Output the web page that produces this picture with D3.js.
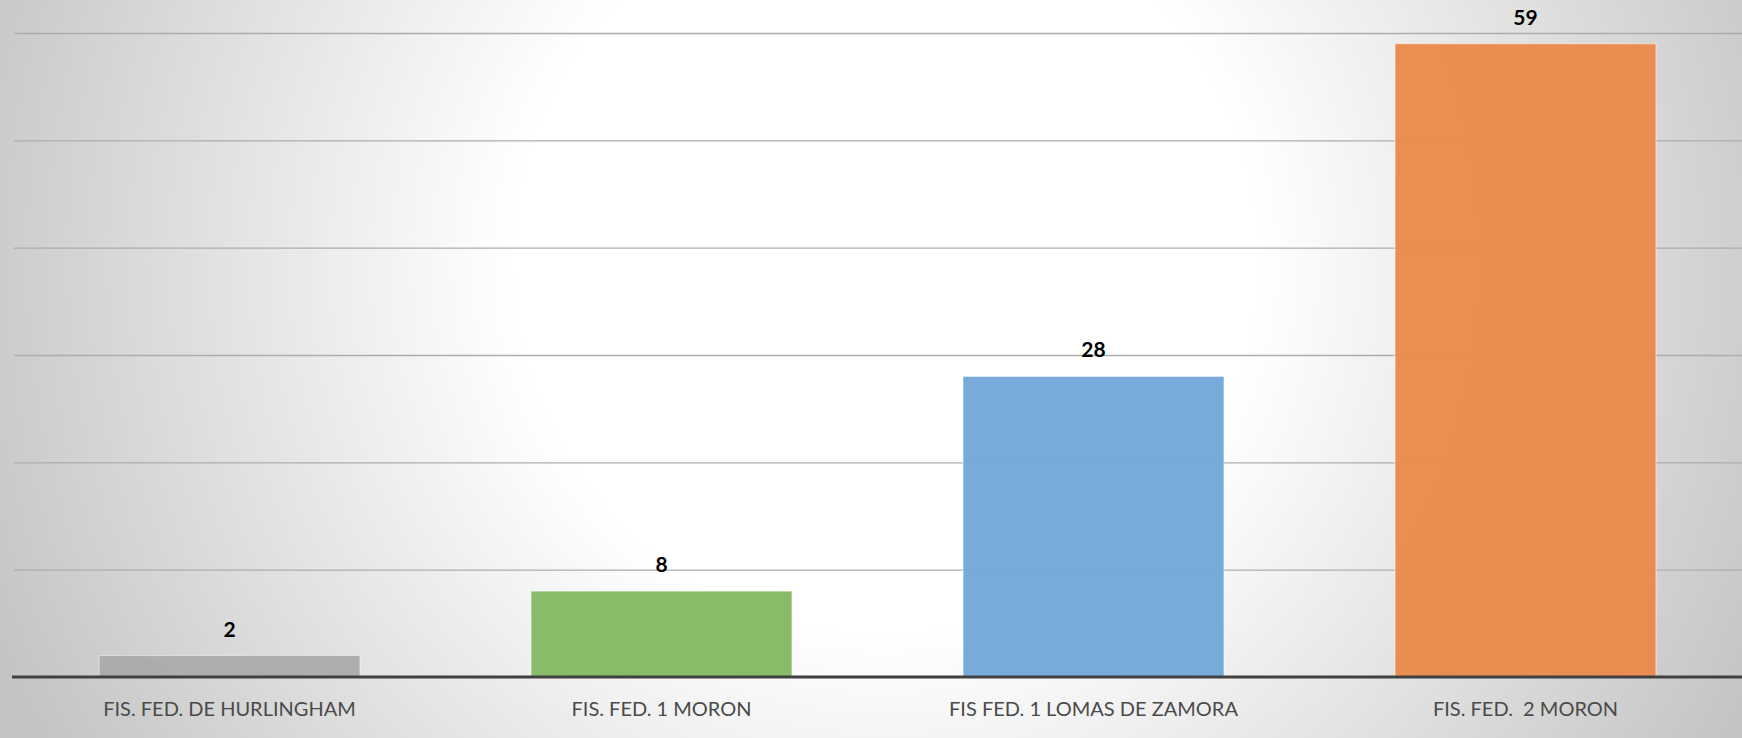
<!DOCTYPE html>
<html>
<head>
<meta charset="utf-8">
<script src="https://cdn.jsdelivr.net/npm/d3@7"></script>
<style>
  html, body { margin: 0; padding: 0; }
  svg { display: block; }
  .grid .domain { display: none; }
  .grid text { display: none; }
</style>
</head>
<body>
<div id="chart"></div>
<script>
var categories = ["FIS. FED. DE HURLINGHAM", "FIS. FED. 1 MORON", "FIS FED. 1 LOMAS DE ZAMORA", "FIS. FED.  2 MORON"];
var values = [2, 8, 28, 59];
var barColors = ["#ababab", "#83b962", "#73a7d9", "#e98a4a"];
var yTicks = [0, 10, 20, 30, 40, 50, 60];

var width = 1742,
    height = 738;
var margin = {top: 33, right: 0, bottom: 61, left: 14};

var svg = d3.select("#chart").append("svg")
    .attr("width", width)
    .attr("height", height);

// background radial gradient
var defs = svg.append("defs");
var grad = defs.append("radialGradient")
    .attr("id", "bg")
    .attr("gradientUnits", "userSpaceOnUse")
    .attr("cx", 885).attr("cy", 260).attr("r", 980);
grad.append("stop").attr("offset", "0").attr("stop-color", "#ffffff");
grad.append("stop").attr("offset", "0.38").attr("stop-color", "#ffffff");
grad.append("stop").attr("offset", "1").attr("stop-color", "#c3c3c3");

svg.append("rect")
    .attr("width", width)
    .attr("height", height)
    .attr("fill", "url(#bg)");

var x = d3.scaleBand()
    .domain(categories)
    .range([margin.left - 0.5, width - 0.5])
    .paddingInner(0.396)
    .paddingOuter(0.198);

var y = d3.scaleLinear()
    .domain([0, 60])
    .range([height - margin.bottom, margin.top]);

// gridlines
svg.append("g")
    .attr("class", "grid")
    .attr("transform", "translate(" + margin.left + ",0)")
    .call(d3.axisLeft(y).tickValues(yTicks.slice(1)).tickSize(-(width - margin.left)).tickFormat(""))
    .selectAll("line")
      .attr("stroke", "#adadad")
      .attr("stroke-width", 1.4);

// bars
svg.append("g").selectAll("rect")
    .data(values)
  .enter().append("rect")
    .attr("x", function(d, i) { return x(categories[i]); })
    .attr("y", function(d) { return y(d); })
    .attr("width", x.bandwidth())
    .attr("height", function(d) { return y(0) - y(d); })
    .attr("fill", function(d, i) { return barColors[i]; })
    .attr("fill-opacity", 0.96)
    .attr("stroke", "#ffffff")
    .attr("stroke-opacity", 0.45)
    .attr("stroke-width", 1.2);

// value labels
svg.append("g").selectAll("text")
    .data(values)
  .enter().append("text")
    .attr("x", function(d, i) { return x(categories[i]) + x.bandwidth() / 2; })
    .attr("y", function(d) { return y(d) - 19; })
    .attr("text-anchor", "middle")
    .attr("font-family", "Lato, 'Open Sans', sans-serif")
    .attr("font-weight", "bold")
    .attr("font-size", "21px")
    .attr("fill", "#000000")
    .text(function(d) { return d; });

// x axis
var xAxis = svg.append("g")
    .attr("transform", "translate(0," + y(0) + ")")
    .call(d3.axisBottom(x).tickSize(0).tickPadding(25));
xAxis.select(".domain")
    .attr("d", "M" + (margin.left - 2) + ",0H" + width)
    .attr("stroke", "#404040")
    .attr("stroke-width", 3);
xAxis.selectAll("text")
    .attr("font-family", "Lato, 'Open Sans', sans-serif")
    .attr("font-size", "20px")
    .attr("fill", "#4a4a4a")
    .style("white-space", "pre")
    .attr("xml:space", "preserve");
</script>
</body>
</html>
